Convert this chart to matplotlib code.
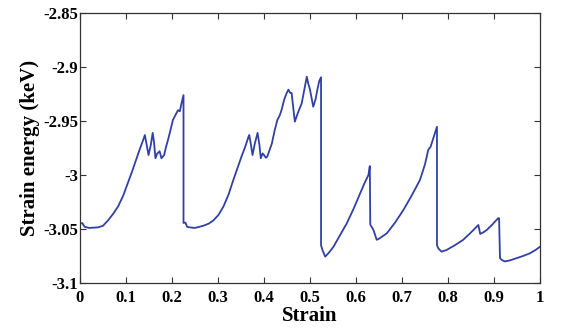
import matplotlib.pyplot as plt
from matplotlib.ticker import FormatStrFormatter

# Strain energy vs. applied strain (keV), traced points along the curve
strain = [
    0.000, 0.005, 0.010, 0.020, 0.039, 0.050, 0.061, 0.072, 0.083, 0.094, 0.104, 0.113,
    0.122, 0.130, 0.137, 0.141, 0.145, 0.149, 0.154, 0.158, 0.161, 0.164, 0.168, 0.171,
    0.173, 0.177, 0.180, 0.183, 0.187, 0.191, 0.197, 0.202, 0.208, 0.213, 0.217, 0.221,
    0.225, 0.225, 0.229, 0.233, 0.239, 0.250, 0.268, 0.280, 0.290, 0.301, 0.312, 0.323,
    0.333, 0.342, 0.351, 0.359, 0.366, 0.368, 0.372, 0.375, 0.380, 0.386, 0.390, 0.393,
    0.397, 0.400, 0.404, 0.407, 0.412, 0.417, 0.423, 0.429, 0.434, 0.438, 0.444, 0.449,
    0.453, 0.457, 0.460, 0.464, 0.467, 0.474, 0.482, 0.488, 0.493, 0.496, 0.500, 0.504,
    0.507, 0.512, 0.516, 0.520, 0.524, 0.524, 0.527, 0.533, 0.541, 0.551, 0.565, 0.580,
    0.595, 0.609, 0.618, 0.627, 0.630, 0.631, 0.634, 0.638, 0.642, 0.645, 0.650, 0.667,
    0.685, 0.703, 0.721, 0.739, 0.750, 0.757, 0.760, 0.762, 0.768, 0.776, 0.776, 0.779,
    0.786, 0.797, 0.815, 0.833, 0.848, 0.862, 0.866, 0.870, 0.877, 0.884, 0.896, 0.909,
    0.911, 0.913, 0.918, 0.924, 0.935, 0.949, 0.963, 0.978, 0.990, 1.000,
]
energy = [
    -3.0450, -3.0445, -3.0480, -3.0490, -3.0485, -3.0470, -3.0420, -3.0360, -3.0290, -3.0190, -3.0075, -2.9970,
    -2.9860, -2.9760, -2.9680, -2.9630, -2.9720, -2.9815, -2.9720, -2.9610, -2.9700, -2.9845, -2.9800, -2.9790,
    -2.9780, -2.9845, -2.9830, -2.9815, -2.9740, -2.9680, -2.9580, -2.9490, -2.9440, -2.9400, -2.9410, -2.9330,
    -2.9260, -3.0444, -3.0440, -3.0480, -3.0485, -3.0490, -3.0470, -3.0450, -3.0420, -3.0370, -3.0290, -3.0180,
    -3.0050, -2.9940, -2.9830, -2.9740, -2.9650, -2.9630, -2.9730, -2.9815, -2.9710, -2.9610, -2.9720, -2.9845,
    -2.9800, -2.9815, -2.9840, -2.9830, -2.9770, -2.9710, -2.9590, -2.9490, -2.9450, -2.9400, -2.9300, -2.9244,
    -2.9210, -2.9240, -2.9240, -2.9390, -2.9506, -2.9420, -2.9336, -2.9200, -2.9090, -2.9150, -2.9210, -2.9300,
    -2.9368, -2.9300, -2.9210, -2.9130, -2.9095, -3.0650, -3.0694, -3.0756, -3.0720, -3.0664, -3.0560, -3.0447,
    -3.0310, -3.0170, -3.0080, -3.0000, -2.9917, -3.0460, -3.0480, -3.0510, -3.0560, -3.0600, -3.0590, -3.0540,
    -3.0440, -3.0324, -3.0190, -3.0046, -2.9900, -2.9768, -2.9750, -2.9740, -2.9660, -2.9553, -3.0650, -3.0680,
    -3.0710, -3.0694, -3.0650, -3.0600, -3.0540, -3.0480, -3.0463, -3.0546, -3.0530, -3.0510, -3.0460, -3.0400,
    -3.0400, -3.0770, -3.0790, -3.0800, -3.0790, -3.0770, -3.0750, -3.0725, -3.0695, -3.0664,
]

x_ticks = [0, 0.1, 0.2, 0.3, 0.4, 0.5, 0.6, 0.7, 0.8, 0.9, 1]
y_ticks = [-3.1, -3.05, -3.0, -2.95, -2.9, -2.85]

plt.rcParams['font.family'] = ['Liberation Serif', 'DejaVu Serif']
plt.rcParams['font.weight'] = 'bold'

fig = plt.figure(figsize=(5.61, 3.30), dpi=100)
ax = fig.add_axes([0.1426, 0.1424, 0.82, 0.8182])

ax.plot(strain, energy, color='#3040a6', linewidth=1.3)

ax.set_xlim(0, 1)
ax.set_ylim(-3.1, -2.85)
ax.set_xticks(x_ticks)
ax.set_yticks(y_ticks)
ax.xaxis.set_major_formatter(FormatStrFormatter('%g'))
ax.yaxis.set_major_formatter(FormatStrFormatter('%g'))
ax.tick_params(direction='in', top=True, right=True, length=4, width=0.8,
               labelsize=12, colors='#333333', labelcolor='black')
ax.tick_params(axis='x', pad=5)
ax.tick_params(axis='y', pad=1.5)
for lbl in ax.get_xticklabels() + ax.get_yticklabels():
    lbl.set_fontweight('bold')
for sp in ax.spines.values():
    sp.set_color('#333333')
    sp.set_linewidth(0.9)

ax.set_xlabel('Strain', fontsize=15, fontweight='bold', labelpad=0)
ax.set_ylabel('Strain energy (keV)', fontsize=15, fontweight='bold', labelpad=2)

fig.savefig('out.png', dpi=100)
